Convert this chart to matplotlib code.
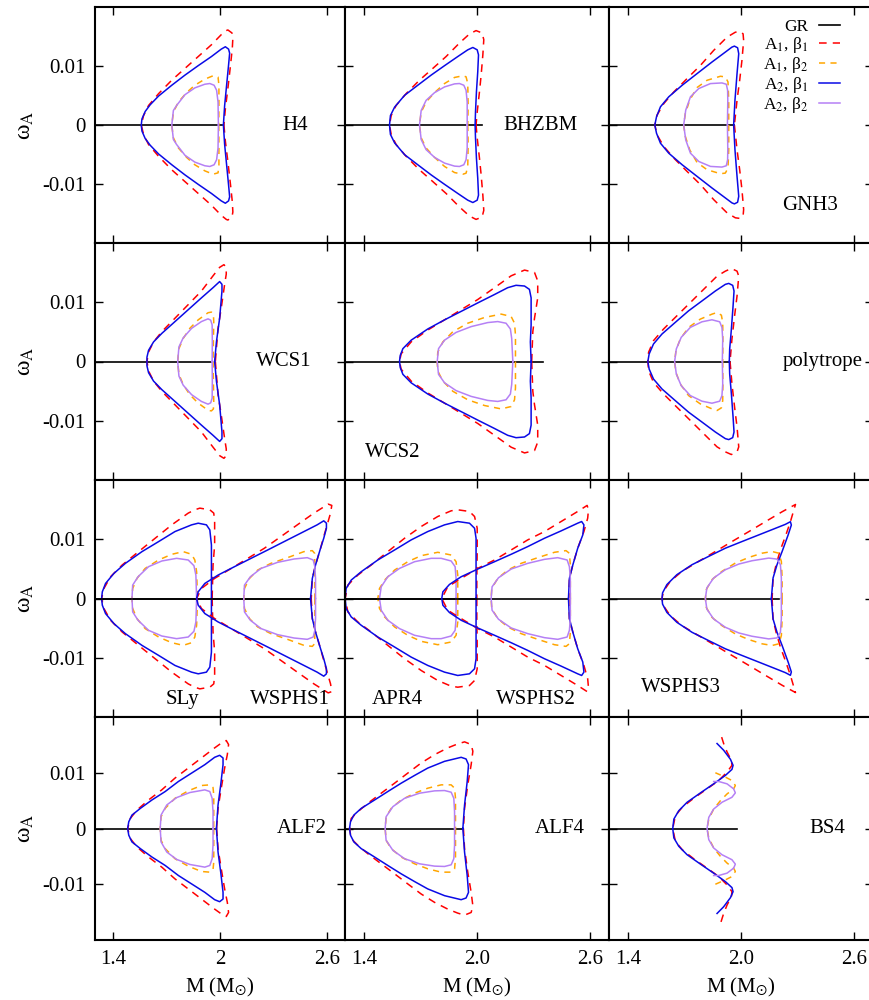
import numpy as np
import matplotlib
matplotlib.use('Agg')
import matplotlib.pyplot as plt

plt.rcParams['font.family'] = ['Liberation Serif', 'DejaVu Serif']
plt.rcParams['mathtext.fontset'] = 'stix'

# upper branch of each curve (M, omega_A), from the left tip to the end;
# the lower branch is the mirror image (omega_A -> -omega_A)
H4 = dict(
    gr=[1.0, 2.013],
    a1b1=[(1.559, 0), (1.572, 0.0016), (1.600, 0.00331), (1.656, 0.00531), (1.730, 0.0076), (1.804, 0.0096),
          (1.878, 0.0116), (1.952, 0.0136), (2.007, 0.01531), (2.035, 0.016), (2.044, 0.01611), (2.067, 0.0156),
          (2.072, 0.01474), (2.069, 0.01303), (2.059, 0.01017), (2.044, 0.00617), (2.030, 0.00274), (2.022, 0)],
    a1b2=[(1.730, 0), (1.739, 0.00217), (1.767, 0.00389), (1.813, 0.00549), (1.859, 0.00674), (1.915, 0.00777),
          (1.961, 0.00834), (1.989, 0.00811), (1.994, 0.00674), (1.994, 0.00331), (1.993, 0)],
    a2b1=[(1.559, 0), (1.563, 0.00103), (1.581, 0.00229), (1.609, 0.00343), (1.656, 0.00491), (1.730, 0.00674),
          (1.804, 0.00846), (1.878, 0.01006), (1.952, 0.0116), (2.007, 0.01286), (2.030, 0.01326), (2.048, 0.01286),
          (2.054, 0.01217), (2.048, 0.01017), (2.037, 0.00674), (2.026, 0.00331), (2.019, 0)],
    a2b2=[(1.730, 0), (1.739, 0.00246), (1.757, 0.00331), (1.804, 0.00514), (1.859, 0.00629), (1.915, 0.00691),
          (1.943, 0.00703), (1.967, 0.00674), (1.981, 0.00589), (1.989, 0.00389), (1.991, 0)],
)

BHZBM = dict(
    gr=[1.0, 2.025],
    a1b1=[(1.536, 0), (1.545, 0.0016), (1.571, 0.00331), (1.624, 0.00531), (1.695, 0.0076), (1.766, 0.0096),
          (1.836, 0.0116), (1.907, 0.01389), (1.960, 0.01543), (1.995, 0.016), (2.027, 0.0156), (2.036, 0.01446),
          (2.031, 0.01189), (2.022, 0.00846), (2.013, 0.0056), (2.001, 0.00217), (1.995, 0)],
    a1b2=[(1.695, 0), (1.704, 0.00217), (1.730, 0.00389), (1.775, 0.00549), (1.828, 0.00703), (1.881, 0.00806),
          (1.925, 0.00834), (1.942, 0.00817), (1.951, 0.00703), (1.953, 0.00331), (1.951, 0)],
    a2b1=[(1.536, 0), (1.541, 0.0016), (1.563, 0.00303), (1.616, 0.00503), (1.686, 0.00674), (1.757, 0.00846),
          (1.828, 0.01006), (1.898, 0.0116), (1.951, 0.01274), (1.978, 0.01314), (2.001, 0.01274), (2.008, 0.01189),
          (2.004, 0.00903), (1.997, 0.0056), (1.992, 0.00217), (1.990, 0)],
    a2b2=[(1.695, 0), (1.704, 0.00246), (1.730, 0.00417), (1.775, 0.00549), (1.828, 0.00646), (1.881, 0.00697),
          (1.907, 0.00703), (1.930, 0.00674), (1.942, 0.00589), (1.948, 0.00389), (1.948, 0)],
)

GNH3 = dict(
    gr=[1.0, 1.961],
    a1b1=[(1.543, 0), (1.555, 0.00169), (1.591, 0.00365), (1.644, 0.00562), (1.714, 0.00787), (1.785, 0.01011),
          (1.855, 0.01264), (1.926, 0.01489), (1.970, 0.01573), (1.996, 0.01584), (2.011, 0.01545), (2.014, 0.01433),
          (2.005, 0.01096), (1.993, 0.00758), (1.979, 0.00421), (1.965, 0)],
    a1b2=[(1.696, 0), (1.705, 0.00197), (1.728, 0.00421), (1.767, 0.00635), (1.820, 0.00758), (1.891, 0.00826),
          (1.917, 0.00815), (1.931, 0.0073), (1.935, 0.00421), (1.935, 0)],
    a2b1=[(1.543, 0), (1.552, 0.0014), (1.573, 0.00309), (1.617, 0.00478), (1.688, 0.00674), (1.767, 0.00871),
          (1.846, 0.01067), (1.917, 0.01236), (1.952, 0.0132), (1.965, 0.01337), (1.982, 0.01309), (1.988, 0.01208),
          (1.979, 0.00871), (1.968, 0.00421), (1.961, 0)],
    a2b2=[(1.696, 0), (1.707, 0.00253), (1.732, 0.00478), (1.776, 0.00618), (1.838, 0.00702), (1.899, 0.00713),
          (1.922, 0.00691), (1.929, 0.0059), (1.930, 0.00421), (1.928, 0)],
)

WCS1 = dict(
    gr=[1.0, 1.952],
    a1b1=[(1.591, 0), (1.600, 0.0016), (1.628, 0.00331), (1.674, 0.00503), (1.748, 0.00731), (1.822, 0.0096),
          (1.896, 0.01189), (1.961, 0.01446), (1.998, 0.01589), (2.022, 0.01634), (2.035, 0.01589), (2.035, 0.01474),
          (2.026, 0.01303), (2.007, 0.00903), (1.989, 0.0056), (1.974, 0)],
    a1b2=[(1.763, 0), (1.770, 0.00217), (1.794, 0.00389), (1.831, 0.0056), (1.878, 0.00703), (1.933, 0.00823),
          (1.952, 0.00834), (1.963, 0.008), (1.965, 0.00674), (1.963, 0.00331), (1.961, 0)],
    a2b1=[(1.591, 0), (1.591, 0.00074), (1.600, 0.00189), (1.628, 0.00331), (1.674, 0.00474), (1.748, 0.00674),
          (1.822, 0.00874), (1.896, 0.01074), (1.961, 0.01246), (1.998, 0.01349), (2.011, 0.01303), (2.011, 0.01189),
          (1.998, 0.00731), (1.980, 0.00331), (1.970, 0)],
    a2b2=[(1.763, 0), (1.770, 0.00246), (1.794, 0.004), (1.841, 0.0056), (1.896, 0.00674), (1.933, 0.0072),
          (1.948, 0.00697), (1.956, 0.00617), (1.957, 0.00331), (1.956, 0)],
)

WCS2 = dict(
    gr=[1.0, 2.349],
    a1b1=[(1.589, 0), (1.598, 0.00131), (1.651, 0.00331), (1.739, 0.00531), (1.828, 0.00703), (1.916, 0.00874),
          (2.004, 0.01046), (2.093, 0.01246), (2.181, 0.01446), (2.252, 0.01543), (2.305, 0.01503), (2.322, 0.0136),
          (2.322, 0.01074), (2.305, 0.00731), (2.296, 0.00503), (2.290, 0)],
    a1b2=[(1.789, 0), (1.792, 0.0016), (1.819, 0.00331), (1.872, 0.00503), (1.951, 0.00646), (2.040, 0.00743),
          (2.128, 0.008), (2.181, 0.0076), (2.199, 0.00646), (2.204, 0.00446), (2.204, 0)],
    a2b1=[(1.589, 0), (1.593, 0.00103), (1.607, 0.00217), (1.651, 0.0036), (1.739, 0.00549), (1.828, 0.00703),
          (1.916, 0.00846), (2.004, 0.00989), (2.093, 0.01131), (2.163, 0.01246), (2.207, 0.01286), (2.252, 0.01274),
          (2.278, 0.01217), (2.287, 0.01074), (2.287, 0.00617), (2.283, 0.00331), (2.287, 0)],
    a2b2=[(1.789, 0), (1.796, 0.00217), (1.828, 0.0036), (1.889, 0.00491), (1.969, 0.00589), (2.057, 0.00657),
          (2.110, 0.00674), (2.154, 0.00646), (2.177, 0.00549), (2.184, 0.00389), (2.190, 0)],
)

POLYTROPE = dict(
    gr=[1.0, 1.943],
    a1b1=[(1.506, 0), (1.510, 0.00156), (1.536, 0.00352), (1.589, 0.00547), (1.660, 0.00771), (1.731, 0.00994),
          (1.802, 0.01218), (1.873, 0.01441), (1.917, 0.01525), (1.949, 0.0157), (1.979, 0.01525), (1.988, 0.01441),
          (1.979, 0.01106), (1.966, 0.00771), (1.952, 0.0038), (1.942, 0)],
    a1b2=[(1.648, 0), (1.655, 0.00184), (1.678, 0.0038), (1.722, 0.00575), (1.784, 0.00715), (1.846, 0.00799),
          (1.873, 0.00827), (1.896, 0.00782), (1.903, 0.00659), (1.904, 0.0038), (1.903, 0)],
    a2b1=[(1.506, 0), (1.513, 0.00128), (1.536, 0.00296), (1.581, 0.00464), (1.651, 0.00659), (1.722, 0.00855),
          (1.793, 0.01022), (1.864, 0.0119), (1.917, 0.01302), (1.935, 0.01318), (1.956, 0.01285), (1.963, 0.0119),
          (1.958, 0.00939), (1.949, 0.00547), (1.940, 0.00212), (1.938, 0)],
    a2b2=[(1.648, 0), (1.657, 0.00212), (1.683, 0.00408), (1.731, 0.00575), (1.793, 0.0067), (1.846, 0.00704),
          (1.887, 0.0067), (1.899, 0.00575), (1.903, 0.0038), (1.901, 0)],
)

SLY = dict(
    gr=[1.0, 2.507],
    a1b1=[(1.337, 0), (1.350, 0.00169), (1.387, 0.00367), (1.452, 0.00565), (1.544, 0.00791), (1.637, 0.01017),
          (1.730, 0.01243), (1.822, 0.01441), (1.859, 0.01497), (1.887, 0.01525), (1.943, 0.01497), (1.965, 0.01441),
          (1.970, 0.01299), (1.970, 0.00904), (1.961, 0.00565), (1.956, 0)],
    a1b2=[(1.507, 0), (1.511, 0.00169), (1.535, 0.00339), (1.581, 0.00508), (1.656, 0.0065), (1.730, 0.00746),
          (1.794, 0.00791), (1.841, 0.00746), (1.859, 0.0065), (1.869, 0.00452), (1.874, 0)],
    a2b1=[(1.337, 0), (1.341, 0.00113), (1.359, 0.00254), (1.406, 0.00424), (1.470, 0.00593), (1.563, 0.00791),
          (1.656, 0.0096), (1.748, 0.0113), (1.841, 0.01243), (1.878, 0.01271), (1.924, 0.01243), (1.943, 0.01158),
          (1.952, 0.00904), (1.952, 0.00452), (1.952, 0)],
    a2b2=[(1.507, 0), (1.511, 0.00226), (1.541, 0.00367), (1.600, 0.00537), (1.674, 0.00633), (1.757, 0.00678),
          (1.822, 0.0065), (1.854, 0.00554), (1.865, 0.00395), (1.869, 0)],
)

WSPHS1 = dict(
    gr=[1.0, 2.507],
    a1b1=[(1.869, 0), (1.896, 0.00169), (1.970, 0.00339), (2.063, 0.00508), (2.156, 0.00678), (2.248, 0.00847),
          (2.341, 0.01045), (2.433, 0.01243), (2.526, 0.01441), (2.606, 0.01593), (2.626, 0.01571), (2.619, 0.01441),
          (2.600, 0.01243), (2.581, 0.01045), (2.563, 0.00847), (2.535, 0.00565), (2.517, 0.00339), (2.511, 0)],
    a1b2=[(2.133, 0), (2.137, 0.00169), (2.165, 0.00339), (2.211, 0.0048), (2.285, 0.00593), (2.378, 0.00689),
          (2.470, 0.00791), (2.517, 0.00808), (2.530, 0.00763), (2.531, 0.00565), (2.531, 0)],
    a2b1=[(1.869, 0), (1.878, 0.00113), (1.915, 0.00254), (1.989, 0.00395), (2.081, 0.00537), (2.174, 0.00678),
          (2.267, 0.00819), (2.359, 0.0096), (2.452, 0.01102), (2.544, 0.01243), (2.581, 0.01311), (2.596, 0.01271),
          (2.596, 0.01186), (2.581, 0.01017), (2.563, 0.00847), (2.535, 0.00565), (2.517, 0.00339), (2.507, 0)],
    a2b2=[(2.133, 0), (2.137, 0.00226), (2.170, 0.00367), (2.230, 0.00508), (2.322, 0.0061), (2.415, 0.00667),
          (2.489, 0.00689), (2.522, 0.0065), (2.531, 0.00537), (2.535, 0.00339), (2.535, 0)],
)

APR4 = dict(
    gr=[1.0, 1.995],
    a1b1=[(1.301, 0), (1.315, 0.00226), (1.368, 0.00395), (1.439, 0.00565), (1.527, 0.00791), (1.616, 0.01017),
          (1.704, 0.01215), (1.792, 0.01384), (1.863, 0.0148), (1.898, 0.01497), (1.960, 0.01469), (1.987, 0.01384),
          (2.001, 0.01186), (2.001, 0.00791), (1.999, 0.00339), (1.999, 0)],
    a1b2=[(1.474, 0), (1.483, 0.00169), (1.510, 0.00311), (1.563, 0.0048), (1.633, 0.00621), (1.704, 0.00723),
          (1.792, 0.0078), (1.863, 0.00734), (1.889, 0.00621), (1.898, 0.00395), (1.898, 0)],
    a2b1=[(1.301, 0), (1.306, 0.00169), (1.333, 0.00311), (1.386, 0.00452), (1.474, 0.0065), (1.563, 0.00819),
          (1.651, 0.00989), (1.739, 0.0113), (1.828, 0.01243), (1.898, 0.01299), (1.960, 0.01271), (1.987, 0.01186),
          (1.995, 0.01017), (1.995, 0.00565), (1.995, 0)],
    a2b2=[(1.483, 0), (1.492, 0.00198), (1.527, 0.00367), (1.589, 0.00508), (1.669, 0.00621), (1.757, 0.00678),
          (1.810, 0.00678), (1.863, 0.00633), (1.884, 0.00537), (1.889, 0.00339), (1.889, 0)],
)

WSPHS2 = dict(
    gr=[1.0, 2.485],
    a1b1=[(1.813, 0), (1.845, 0.00198), (1.916, 0.00339), (2.004, 0.00508), (2.093, 0.0065), (2.181, 0.00819),
          (2.269, 0.00989), (2.358, 0.0113), (2.446, 0.01299), (2.534, 0.01469), (2.584, 0.01571), (2.591, 0.01497),
          (2.587, 0.01356), (2.567, 0.0113), (2.534, 0.00847), (2.508, 0.00565), (2.490, 0.00339), (2.488, 0)],
    a1b2=[(2.075, 0), (2.078, 0.00169), (2.110, 0.00339), (2.163, 0.0048), (2.234, 0.00593), (2.322, 0.00689),
          (2.411, 0.0078), (2.472, 0.00808), (2.490, 0.00763), (2.495, 0.00565), (2.495, 0)],
    a2b1=[(1.813, 0), (1.819, 0.00113), (1.854, 0.00237), (1.916, 0.00367), (2.004, 0.00497), (2.093, 0.00621),
          (2.181, 0.00746), (2.269, 0.00876), (2.358, 0.01017), (2.446, 0.01141), (2.534, 0.01271), (2.555, 0.01299),
          (2.567, 0.01243), (2.561, 0.01073), (2.534, 0.00847), (2.508, 0.00565), (2.490, 0.00339), (2.485, 0)],
    a2b2=[(2.075, 0), (2.080, 0.00198), (2.114, 0.0035), (2.181, 0.00497), (2.269, 0.00593), (2.358, 0.00661),
          (2.428, 0.00689), (2.478, 0.0065), (2.490, 0.00537), (2.495, 0.00339), (2.495, 0)],
)

WSPHS3 = dict(
    gr=[1.0, 2.204],
    a1b1=[(1.581, 0), (1.589, 0.00123), (1.625, 0.0029), (1.687, 0.00458), (1.775, 0.00626), (1.864, 0.00793),
          (1.952, 0.00961), (2.041, 0.01128), (2.129, 0.01296), (2.218, 0.01464), (2.289, 0.01587), (2.280, 0.01492),
          (2.262, 0.01296), (2.235, 0.01045), (2.209, 0.00821), (2.186, 0.0057), (2.170, 0.00346), (2.165, 0)],
    a1b2=[(1.811, 0), (1.816, 0.00151), (1.846, 0.00318), (1.899, 0.00458), (1.970, 0.00598), (2.041, 0.00693),
          (2.112, 0.00765), (2.165, 0.00793), (2.200, 0.00765), (2.214, 0.00626), (2.218, 0.00346), (2.218, 0)],
    a2b1=[(1.581, 0), (1.584, 0.00095), (1.607, 0.00235), (1.660, 0.00402), (1.740, 0.0057), (1.828, 0.0071),
          (1.917, 0.00849), (2.005, 0.00961), (2.094, 0.01073), (2.182, 0.01184), (2.235, 0.01251), (2.262, 0.01296),
          (2.267, 0.0124), (2.250, 0.01073), (2.218, 0.00793), (2.191, 0.0057), (2.170, 0.00346), (2.161, 0)],
    a2b2=[(1.811, 0), (1.819, 0.00179), (1.855, 0.00346), (1.917, 0.00486), (1.988, 0.00581), (2.058, 0.00637),
          (2.147, 0.00682), (2.191, 0.00665), (2.209, 0.0057), (2.214, 0.00346), (2.214, 0)],
)

ALF2 = dict(
    gr=[1.0, 1.970],
    a1b1=[(1.483, 0), (1.498, 0.00181), (1.535, 0.00331), (1.600, 0.00512), (1.674, 0.00693), (1.748, 0.00904),
          (1.822, 0.01084), (1.896, 0.01265), (1.970, 0.01446), (2.017, 0.01554), (2.035, 0.01578), (2.048, 0.01506),
          (2.041, 0.01325), (2.026, 0.01084), (2.007, 0.00723), (1.989, 0.00361), (1.981, 0)],
    a1b2=[(1.665, 0), (1.670, 0.00211), (1.693, 0.00361), (1.748, 0.00542), (1.822, 0.00675), (1.896, 0.00771),
          (1.943, 0.00783), (1.961, 0.00735), (1.965, 0.00602), (1.965, 0.00241), (1.965, 0)],
    a2b1=[(1.483, 0), (1.489, 0.0012), (1.507, 0.00241), (1.554, 0.00361), (1.619, 0.00512), (1.693, 0.00663),
          (1.767, 0.00843), (1.841, 0.00994), (1.915, 0.01145), (1.970, 0.01277), (1.998, 0.01313), (2.017, 0.01265),
          (2.017, 0.01145), (2.004, 0.00783), (1.989, 0.00422), (1.980, 0)],
    a2b2=[(1.665, 0), (1.670, 0.00241), (1.702, 0.00422), (1.757, 0.00554), (1.831, 0.00645), (1.915, 0.00693),
          (1.943, 0.00663), (1.956, 0.00542), (1.961, 0.00301), (1.961, 0)],
)

ALF4 = dict(
    gr=[1.0, 1.925],
    a1b1=[(1.324, 0), (1.333, 0.00181), (1.368, 0.00301), (1.421, 0.00452), (1.492, 0.00633), (1.563, 0.00813),
          (1.633, 0.00994), (1.704, 0.01175), (1.775, 0.01325), (1.845, 0.01446), (1.898, 0.01518), (1.934, 0.01554),
          (1.969, 0.01506), (1.978, 0.01386), (1.969, 0.01145), (1.951, 0.00783), (1.934, 0.00361), (1.928, 0)],
    a1b2=[(1.513, 0), (1.518, 0.00211), (1.545, 0.00361), (1.598, 0.00512), (1.669, 0.00633), (1.739, 0.00723),
          (1.810, 0.00783), (1.863, 0.00783), (1.881, 0.00723), (1.886, 0.00542), (1.886, 0)],
    a2b1=[(1.324, 0), (1.329, 0.0012), (1.347, 0.00241), (1.386, 0.00361), (1.457, 0.00512), (1.527, 0.00663),
          (1.598, 0.00813), (1.669, 0.00952), (1.739, 0.01084), (1.828, 0.01205), (1.916, 0.01277), (1.942, 0.01247),
          (1.955, 0.01145), (1.948, 0.00843), (1.934, 0.00422), (1.925, 0)],
    a2b2=[(1.513, 0), (1.518, 0.00211), (1.554, 0.00392), (1.616, 0.00542), (1.695, 0.00633), (1.775, 0.00675),
          (1.828, 0.00681), (1.863, 0.00651), (1.877, 0.00542), (1.881, 0.00301), (1.881, 0)],
)

BS4 = dict(
    gr=[1.0, 1.979],
    a1b1=[(1.638, 0), (1.652, 0.00229), (1.688, 0.0038), (1.749, 0.00542), (1.820, 0.00711), (1.882, 0.00861),
          (1.926, 0.01012), (1.952, 0.01133), (1.949, 0.01223), (1.926, 0.01373), (1.908, 0.01524), (1.894, 0.01675)],
    a1b2=[(1.820, 0), (1.829, 0.00169), (1.855, 0.00349), (1.891, 0.005), (1.926, 0.0062), (1.961, 0.00711),
          (1.970, 0.00771), (1.952, 0.00861), (1.917, 0.00922), (1.864, 0.01)],
    a2b1=[(1.638, 0), (1.644, 0.00169), (1.670, 0.00319), (1.714, 0.0047), (1.785, 0.00639), (1.855, 0.00801),
          (1.917, 0.00952), (1.952, 0.0106), (1.958, 0.01133), (1.944, 0.01241), (1.908, 0.01404), (1.873, 0.01524)],
    a2b2=[(1.820, 0), (1.829, 0.00199), (1.855, 0.00349), (1.899, 0.0047), (1.952, 0.0056), (1.970, 0.00639),
          (1.961, 0.00711), (1.926, 0.00801), (1.882, 0.00843), (1.855, 0.00843)],
)

# panel contents: (row, col, models, labels as (text, M, omega_A))
panels = [
    (0, 0, [H4], [('H4', 2.42, 0)]),
    (0, 1, [BHZBM], [('BHZBM', 2.337, 0)]),
    (0, 2, [GNH3], [('GNH3', 2.368, -0.0136)]),
    (1, 0, [WCS1], [('WCS1', 2.355, 0)]),
    (1, 1, [WCS2], [('WCS2', 1.553, -0.0153)]),
    (1, 2, [POLYTROPE], [('polytrope', 2.432, 0)]),
    (2, 0, [SLY, WSPHS1], [('SLy', 1.79, -0.0171), ('WSPHS1', 2.39, -0.0171)]),
    (2, 1, [APR4, WSPHS2], [('APR4', 1.58, -0.0171), ('WSPHS2', 2.315, -0.0171)]),
    (2, 2, [WSPHS3], [('WSPHS3', 1.68, -0.0151)]),
    (3, 0, [ALF2], [('ALF2', 2.456, 0)]),
    (3, 1, [ALF4], [('ALF4', 2.437, 0)]),
    (3, 2, [BS4], [('BS4', 2.458, 0)]),
]

styles = [
    ('a1b1', 'A$_1$, β$_1$', dict(color='#ff0000', lw=1.1, dashes=(5.0, 4.0))),
    ('a1b2', 'A$_1$, β$_2$', dict(color='#ffa500', lw=1.1, dashes=(4.0, 3.5))),
    ('a2b1', 'A$_2$, β$_1$', dict(color='#0a0ae6', lw=1.1)),
    ('a2b2', 'A$_2$, β$_2$', dict(color='#b580f5', lw=1.1)),
]

xticklabels = [['1.4', '2', '2.6'], ['1.4', '2.0', '2.6'], ['1.4', '2.0', '2.6']]

W, H = 869, 1000
col_edges = [(95, 345), (345, 609), (609, 873)]
row_edges = [(7, 243), (243, 480), (480, 717), (717, 940)]


def mirror(pts):
    x = [p[0] for p in pts[::-1]] + [p[0] for p in pts]
    y = [-p[1] for p in pts[::-1]] + [p[1] for p in pts]
    return x, y


fig = plt.figure(figsize=(W / 100, H / 100), dpi=100)

for row, col, models, labels in panels:
    x0, x1 = col_edges[col]
    y0, y1 = row_edges[row]
    ax = fig.add_axes([x0 / W, 1 - y1 / H, (x1 - x0) / W, (y1 - y0) / H])
    for m in models:
        ax.plot(m['gr'], [0, 0], color='black', lw=1.2, label='GR')
        for key, lab, st in styles:
            x, y = mirror(m[key])
            ax.plot(x, y, label=lab, **st)
    for txt, tx, ty in labels:
        ax.text(tx, ty, txt, ha='center', va='center', fontsize=15)

    ax.set_xlim(1.3, 2.7)
    ax.set_ylim(-0.02, 0.02)
    ax.set_xticks([1.4, 2.0, 2.6])
    ax.set_yticks([-0.01, 0, 0.01])
    ax.tick_params(direction='in', top=True, right=True, length=6, width=1.0,
                   labelsize=15, pad=7)
    for sp in ax.spines.values():
        sp.set_linewidth(1.5)
    if col == 0:
        ax.set_yticklabels(['-0.01', '0', '0.01'])
        ax.set_ylabel('ω$_{\\rm A}$', fontsize=17, labelpad=4)
    else:
        ax.set_yticklabels([])
    if row == 3:
        ax.set_xticklabels(xticklabels[col])
        ax.set_xlabel(r'M (M$_{\odot}$)', fontsize=15, labelpad=5)
    else:
        ax.set_xticklabels([])

    if row == 0 and col == 2:
        h, l = ax.get_legend_handles_labels()
        ax.legend(h[:5], l[:5], loc='upper right', bbox_to_anchor=(0.92, 1.0),
                  frameon=False, markerfirst=False, fontsize=12.5,
                  handlelength=1.2, handletextpad=0.6, labelspacing=0.0,
                  borderaxespad=0.3)

fig.savefig('out.png', dpi=100)
